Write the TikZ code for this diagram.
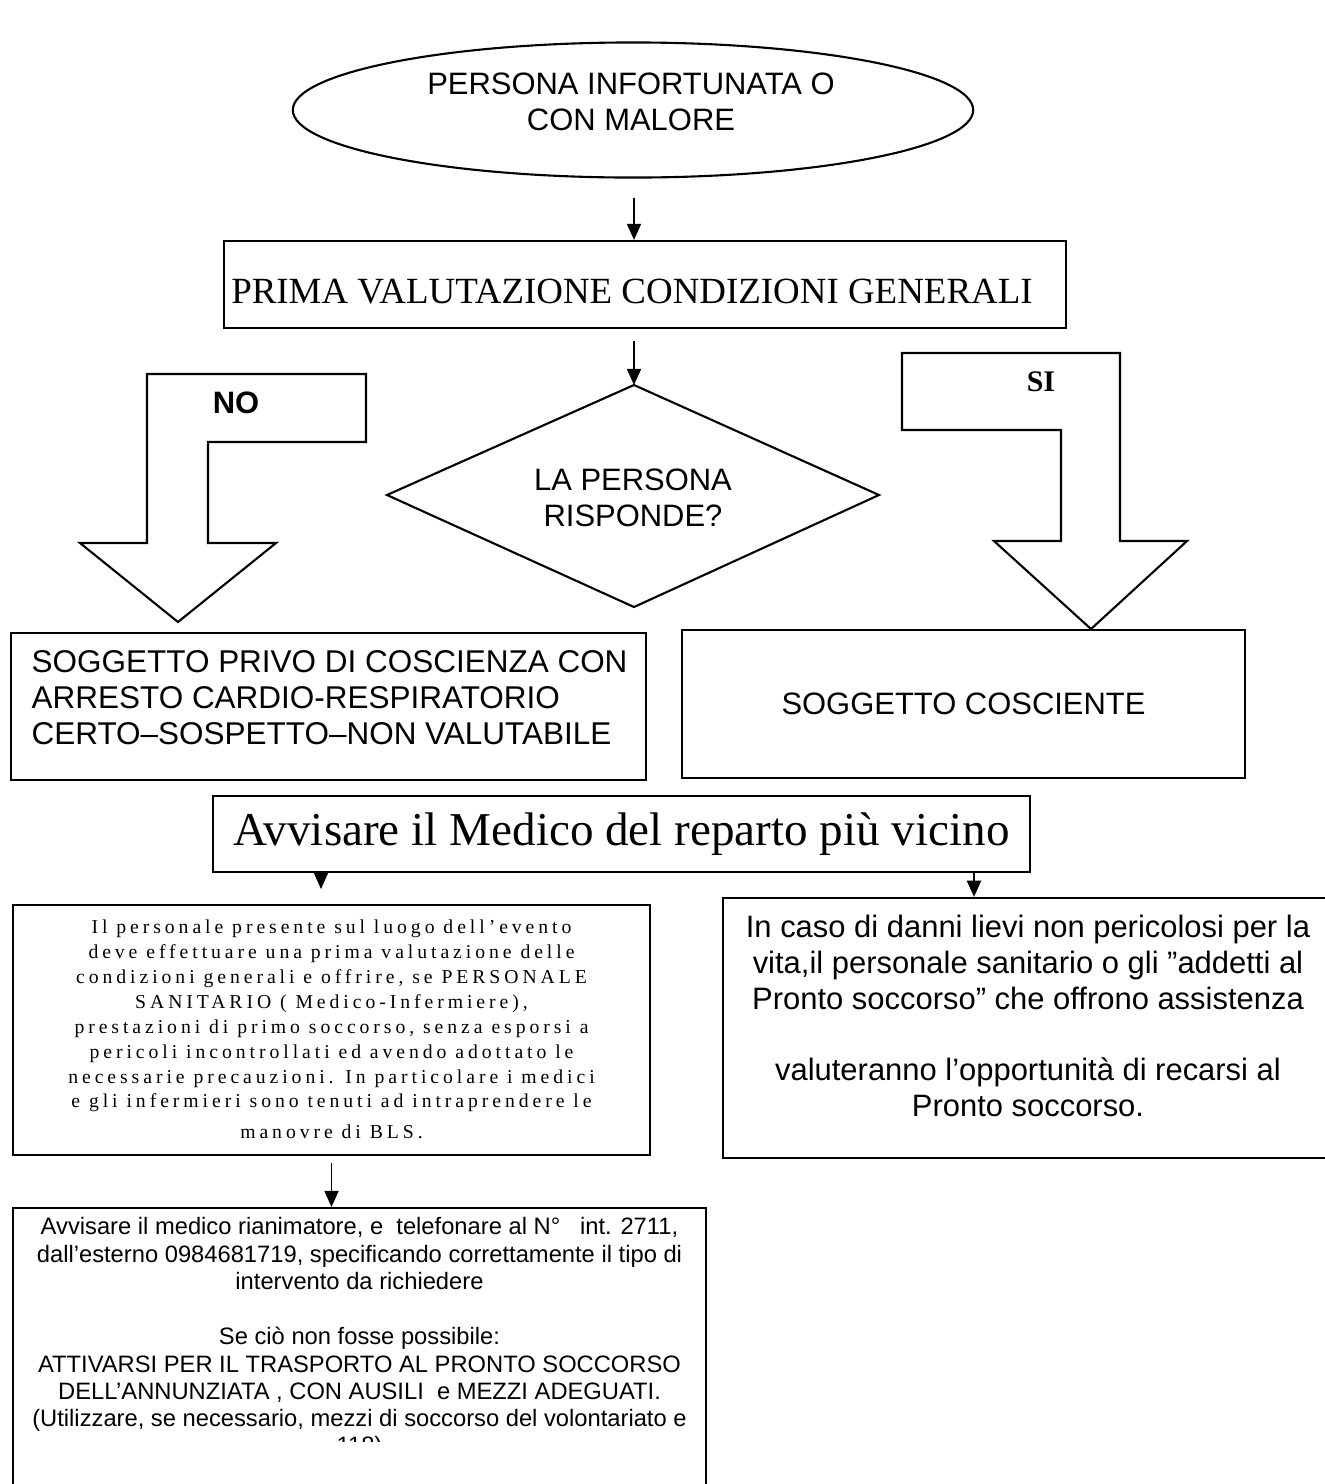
\documentclass[tikz,border=0pt]{standalone}
\usepackage{fontspec}
\setmainfont{Liberation Serif}
\setsansfont{Liberation Sans}
\newfontfamily\spacedserif[LetterSpace=20]{Liberation Serif}
\usetikzlibrary{arrows.meta,shapes.geometric}

\newcommand{\flowsans}{\sffamily\fontsize{8.8pt}{10.2pt}\selectfont}
\newcommand{\smallsans}{\sffamily\fontsize{6.75pt}{7.8pt}\selectfont}
\newcommand{\spacedtext}{\spacedserif\fontsize{5.6pt}{7.1pt}\selectfont}

\tikzset{
  flowarrow/.style = {-{Triangle[width=4pt,length=4.6pt]}, line width=0.5pt},
  box/.style = {draw, line width=0.6pt, inner sep=0pt, align=center},
  boxtext/.style = {inner sep=0pt, align=center},
  bigarrow/.style = {draw, line width=0.6pt, line join=miter},
}

\begin{document}
\begin{tikzpicture}[x=0.01cm, y=-0.01cm]
  \useasboundingbox (0,0) rectangle (1325,1484);

  % top of the chart
  \node [box, ellipse, minimum width=6.8cm, minimum height=1.35cm] (ell) at (633,110) {};
  \node [boxtext, font=\flowsans] (elltext) at (631,102) {PERSONA INFORTUNATA O\\CON MALORE};
  \node [box, minimum width=8.42cm, minimum height=0.87cm] (prima) at (645,284.5) {};
  \node [boxtext, font=\fontsize{10.5pt}{12pt}\selectfont] (primatext) at (632,292) {PRIMA VALUTAZIONE CONDIZIONI GENERALI};
  \node [boxtext, font=\flowsans] (dia) at (633,498) {LA PERSONA\\RISPONDE?};
  \coordinate (diatop) at (634,385);
  \draw [line width=0.6pt] (diatop) -- (879,495) -- (634,607) -- (387,495) -- cycle;
  \draw [flowarrow] ([yshift=-0.19cm]ell.south -| diatop) -- (prima.north -| diatop);
  \draw [flowarrow] ([yshift=-0.12cm]prima.south -| diatop) -- (diatop);

  % block arrows NO / SI
  \draw [bigarrow] (147,374) -- (366,374) -- (366,442) -- (208,442) -- (208,543) -- (276,543) -- (178,622) -- (80,543) -- (147,543) -- cycle;
  \node [font=\sffamily\bfseries\fontsize{8.8pt}{10pt}\selectfont] (no) at (236,403) {NO};
  \draw [bigarrow] (902,353) -- (1120,353) -- (1120,541) -- (1187,541) -- (1091,629) -- (994,541) -- (1061,541) -- (1061,430) -- (902,430) -- cycle;
  \node [font=\bfseries\fontsize{8.5pt}{10pt}\selectfont] (si) at (1041,382) {SI};

  % the two outcomes
  \node [box, minimum width=6.35cm, minimum height=1.47cm] (privo) at (328.5,706.5) {};
  \node [boxtext, align=left, anchor=west, font=\sffamily\fontsize{8.95pt}{10.2pt}\selectfont] (privotext) at (31,698) {SOGGETTO PRIVO DI COSCIENZA CON\\ARRESTO CARDIO-RESPIRATORIO\\CERTO\textendash SOSPETTO\textendash NON VALUTABILE};
  \node [box, minimum width=5.63cm, minimum height=1.48cm, font=\flowsans] (cosc) at (963.5,704) {SOGGETTO COSCIENTE};

  \node [box, minimum width=8.17cm, minimum height=0.76cm, font=\fontsize{13.4pt}{16pt}\selectfont] (medico) at (621.5,834) {Avvisare il Medico del reparto più vicino};

  \node [box, minimum width=6.37cm, minimum height=2.5cm] (personale) at (331.5,1030) {};
  \node [boxtext, font=\spacedtext] (personaletext) at (331.5,1029) {Il personale presente sul luogo dell’evento\\deve effettuare una prima valutazione delle\\condizioni generali e offrire, se PERSONALE\\SANITARIO ( Medico-Infermiere),\\prestazioni di primo soccorso, senza esporsi a\\pericoli incontrollati ed avendo adottato le\\necessarie precauzioni. In particolare i medici\\e gli infermieri sono tenuti ad intraprendere le\\[1.5pt]manovre di BLS.};
  \node [box, minimum width=6.1cm, minimum height=2.6cm] (danni) at (1028,1028) {};
  \node [boxtext, font=\flowsans] (dannitext) at (1028,1016) {In caso di danni lievi non pericolosi per la\\vita,il personale sanitario o gli ”addetti al\\Pronto soccorso” che offrono assistenza\\[10.2pt]valuteranno l’opportunità di recarsi al\\Pronto soccorso.};

  \node [box, anchor=north, minimum width=6.93cm, minimum height=3.2cm] (rianim) at (359.5,1207) {};
  \node [boxtext, anchor=north, font=\smallsans] (rianimtext) at ([yshift=-0.1cm]rianim.north) {Avvisare il medico rianimatore, e\ \ telefonare al N°\ \ \ int. 2711,\\dall’esterno 0984681719, specificando correttamente il tipo di\\intervento da richiedere\\[7.8pt]Se ciò non fosse possibile:\\ATTIVARSI PER IL TRASPORTO AL PRONTO SOCCORSO\\DELL’ANNUNZIATA , CON AUSILI\ \ e MEZZI ADEGUATI.\\(Utilizzare, se necessario, mezzi di soccorso del volontariato e};
  % last line, cut off in the box
  \begin{scope}
    \clip (20,1425) rectangle (700,1441);
    \node [boxtext, anchor=north, font=\smallsans] (cutline) at ([yshift=-0.03cm]rianimtext.south) {118)};
  \end{scope}

  % connectors below the Medico box
  \coordinate (lefttip) at (321,889);
  \coordinate (rightx) at (974,0);
  \draw [flowarrow] (medico.south -| lefttip) -- (lefttip);
  \draw [flowarrow] (medico.south -| rightx) -- (danni.north -| rightx);
  \draw [flowarrow] ([yshift=-0.07cm]personale.south) -- (personale.south |- rianim.north);
\end{tikzpicture}
\end{document}
